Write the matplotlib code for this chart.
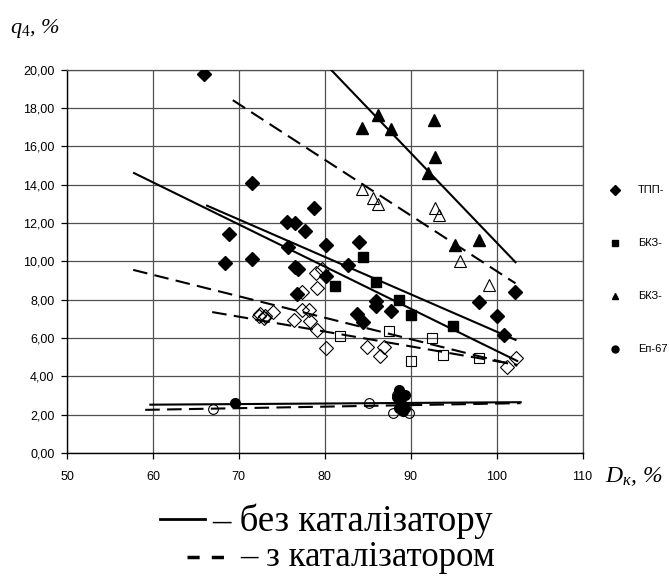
import matplotlib
matplotlib.use("Agg")
import matplotlib.pyplot as plt
from matplotlib.lines import Line2D
from matplotlib.ticker import MultipleLocator, FuncFormatter

plt.rcParams['mathtext.fontset'] = 'custom'
plt.rcParams['mathtext.rm'] = 'Liberation Serif'
plt.rcParams['mathtext.it'] = 'Liberation Serif:italic'

# ТПП boiler, without / with catalyst
tpp_x_no = [66.0, 71.5, 68.9, 68.4, 71.5, 78.8, 75.6, 76.5, 77.7, 75.7, 80.2, 84.0, 76.5,
            76.9, 80.2, 82.7, 76.8, 86.0, 86.0, 87.7, 83.7, 84.4, 98.0, 100.0, 100.9, 102.1]
tpp_y_no = [19.75, 14.1, 11.4, 9.9, 10.1, 12.8, 12.05, 12.0, 11.6, 10.75, 10.85, 11.0, 9.7,
            9.6, 9.25, 9.8, 8.3, 7.95, 7.65, 7.4, 7.25, 6.85, 7.85, 7.15, 6.15, 8.4]
tpp_x_cat = [79.0, 79.1, 79.7, 77.4, 72.5, 73.1, 74.0, 72.9, 72.3, 76.4, 77.4, 78.2, 78.3,
             79.1, 80.1, 84.9, 86.9, 86.4, 102.3, 101.2]
tpp_y_cat = [9.4, 8.6, 9.6, 8.4, 7.25, 7.15, 7.35, 7.05, 7.15, 6.95, 7.45, 7.45, 6.9,
             6.4, 5.5, 5.55, 5.55, 5.05, 4.95, 4.5]

# БКЗ (squares)
sq_x_no = [84.4, 81.2, 86.0, 88.7, 90.0, 94.9]
sq_y_no = [10.2, 8.7, 8.9, 8.0, 7.2, 6.6]
sq_x_cat = [81.8, 87.5, 92.5, 90.0, 93.8, 98.0]
sq_y_cat = [6.1, 6.35, 6.0, 4.8, 5.1, 4.95]

# БКЗ (triangles)
tr_x_no = [84.3, 86.2, 87.7, 92.7, 92.8, 92.0, 98.0, 95.2]
tr_y_no = [16.95, 17.65, 16.9, 17.35, 15.45, 14.6, 11.1, 10.85]
tr_x_cat = [84.3, 85.6, 86.2, 92.8, 93.3, 95.7, 99.1]
tr_y_cat = [13.75, 13.3, 13.0, 12.8, 12.4, 10.0, 8.75]

# Еп-670 (circles)
ep_x_no = [69.6, 88.7, 89.3, 88.4, 88.9, 88.7, 89.3, 89.1]
ep_y_no = [2.62, 3.3, 3.05, 2.9, 2.6, 2.35, 2.35, 2.2]
ep_x_cat = [67.0, 85.1, 88.0, 89.8, 88.4]
ep_y_cat = [2.3, 2.6, 2.07, 2.07, 3.0]

# trend lines: x0, y0, x1, y1
trend_no = [(80.7, 20.0, 102.2, 9.95),
            (57.8, 14.6, 102.4, 4.8),
            (66.3, 12.9, 102.2, 5.9),
            (59.7, 2.52, 102.8, 2.65)]
trend_cat = [(69.3, 18.4, 102.2, 8.85),
             (57.7, 9.55, 102.4, 4.55),
             (66.9, 7.35, 102.4, 4.6),
             (59.1, 2.25, 102.8, 2.6)]

legend_labels = ['ТПП-', 'БКЗ-', 'БКЗ-', 'Еп-67']

fig = plt.figure(figsize=(6.69, 5.76), dpi=100)
ax = fig.add_axes([67 / 669, 1 - 453 / 576, 515.5 / 669, 383.5 / 576])

dash = (0, (7, 3.5))
for x0, y0, x1, y1 in trend_no:
    ax.plot([x0, x1], [y0, y1], color='black', lw=1.5, zorder=4)
for x0, y0, x1, y1 in trend_cat:
    ax.plot([x0, x1], [y0, y1], color='black', lw=1.5, ls=dash, zorder=4)

series = [
    ('D', 7.0, tpp_x_no, tpp_y_no, tpp_x_cat, tpp_y_cat),
    ('s', 7.0, sq_x_no, sq_y_no, sq_x_cat, sq_y_cat),
    ('^', 8.5, tr_x_no, tr_y_no, tr_x_cat, tr_y_cat),
    ('o', 7.0, ep_x_no, ep_y_no, ep_x_cat, ep_y_cat),
]
handles = []
for m, ms, xn, yn, xc, yc in series:
    ax.plot(xc, yc, ls='none', marker=m, ms=ms, mfc='none', mec='black', mew=0.8, zorder=3)
    ax.plot(xn, yn, ls='none', marker=m, ms=ms, mfc='black', mec='black', zorder=5)
    handles.append(Line2D([], [], ls='none', marker=m, ms=5, mfc='black', mec='black'))

ax.set_xlim(50, 110)
ax.set_ylim(0, 20)
ax.xaxis.set_major_locator(MultipleLocator(10))
ax.yaxis.set_major_locator(MultipleLocator(2))
ax.yaxis.set_major_formatter(FuncFormatter(lambda v, p: f'{v:.2f}'.replace('.', ',')))
ax.grid(True, color='#505050', lw=0.9)
ax.set_axisbelow(True)
for side in ['top', 'right']:
    ax.spines[side].set_color('#505050')
    ax.spines[side].set_linewidth(0.9)
for side in ['left', 'bottom']:
    ax.spines[side].set_linewidth(1.0)
ax.tick_params(direction='out', length=4, width=0.9, labelsize=9, pad=5)
ax.tick_params(axis='x', pad=9)
for lab in ax.get_xticklabels() + ax.get_yticklabels():
    lab.set_fontfamily('Liberation Sans')

fig.legend(handles, legend_labels, loc='upper left', bbox_to_anchor=(604 / 669, 1 - 181 / 576),
           frameon=False, labelspacing=3.87, handlelength=1.2,
           handletextpad=1.45, borderaxespad=0, prop={'family': 'Liberation Sans', 'size': 8})

fig.text(10 / 669, 1 - 28 / 576, r'$q_{4}$, %', fontsize=16, family='Liberation Serif',
         style='italic', va='center', ha='left')
fig.text(605 / 669, 1 - 476 / 576, r'$D_{к}$, %', fontsize=17, family='Liberation Serif',
         style='italic', va='center', ha='left')

# line-style key under the chart
fig.add_artist(Line2D([160 / 669, 205 / 669], [1 - 519 / 576] * 2, color='black', lw=2))
fig.text(212 / 669, 1 - 521 / 576, '– без каталізатору', fontsize=26.5,
         family='Liberation Serif', va='center', ha='left')
fig.add_artist(Line2D([187 / 669, 233 / 669], [1 - 557 / 576] * 2, color='black', lw=2.5,
                      ls=(0, (3.5, 3.5))))
fig.text(240 / 669, 1 - 558 / 576, '– з каталізатором', fontsize=25,
         family='Liberation Serif', va='center', ha='left')

fig.savefig('out.png', dpi=100)
